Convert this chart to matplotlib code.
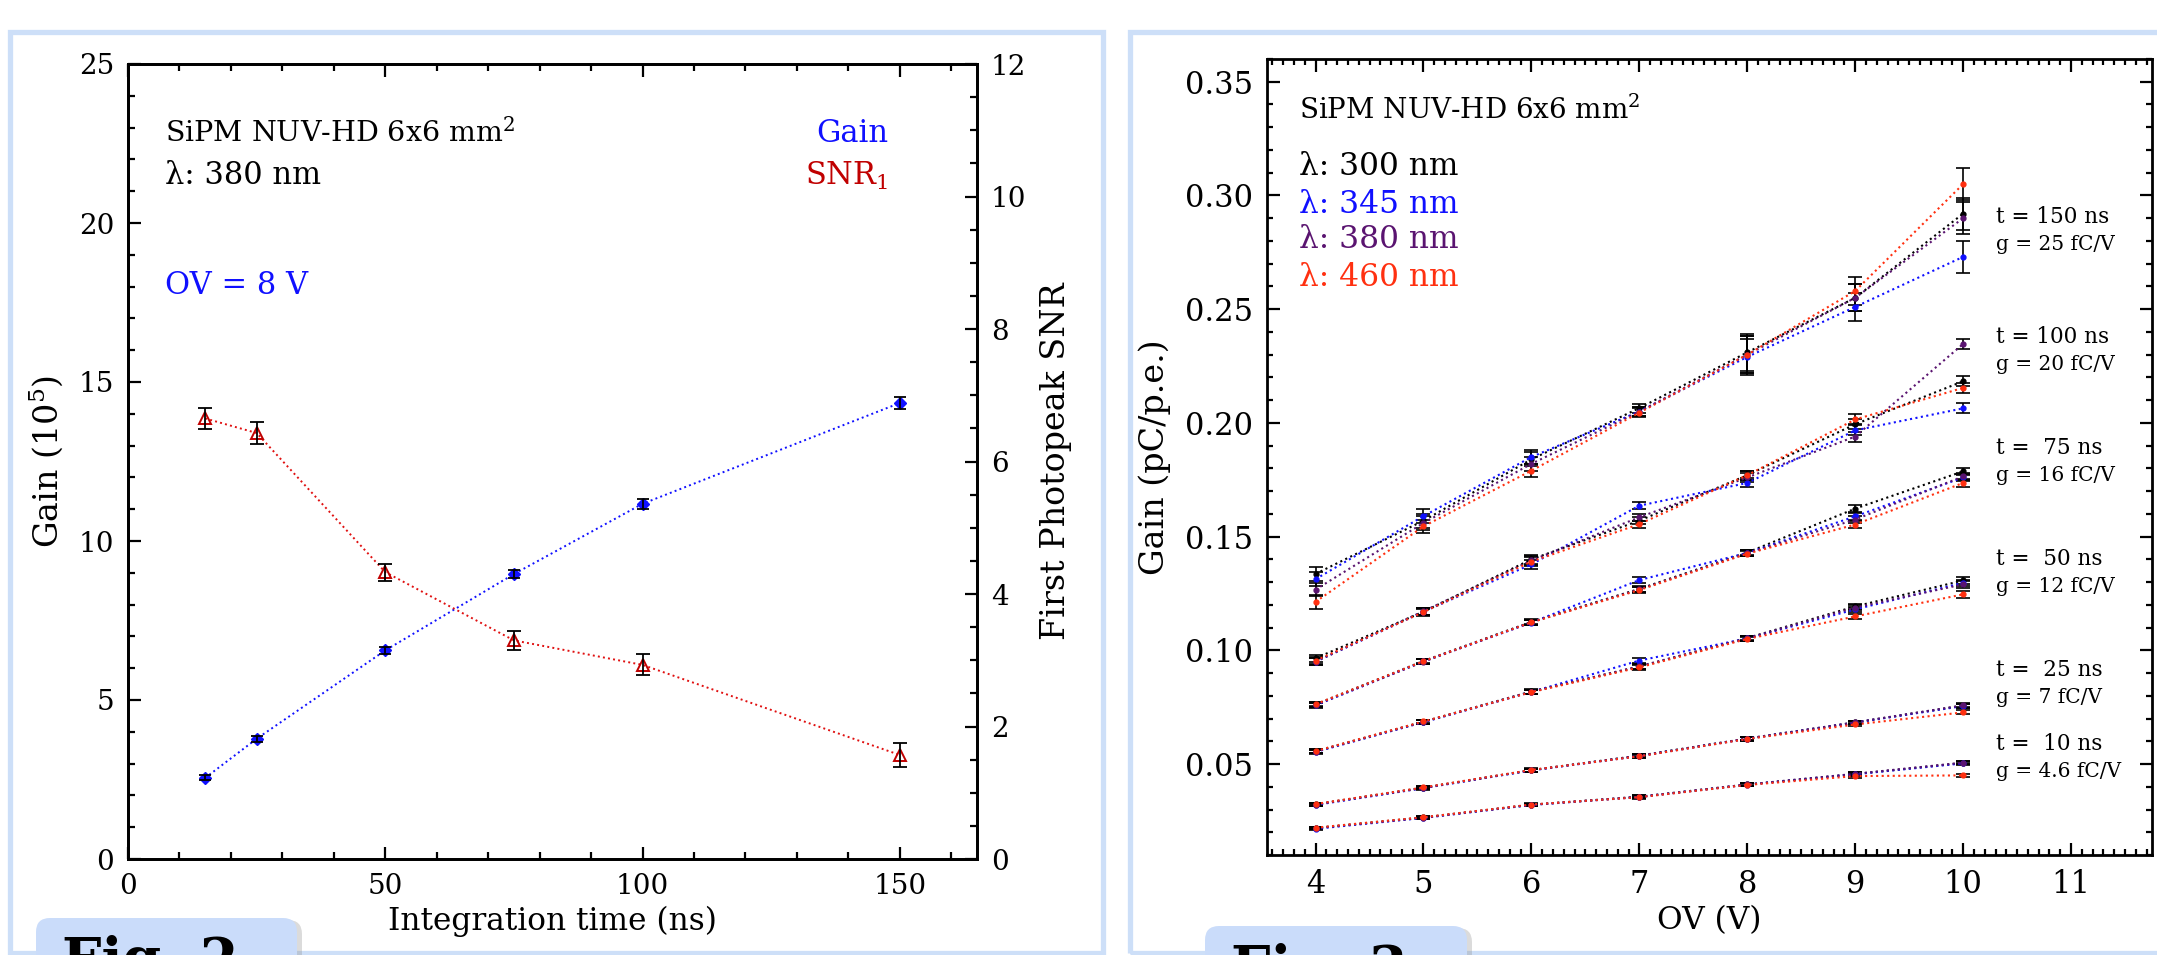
import numpy as np
import matplotlib; matplotlib.use("Agg")
import matplotlib.pyplot as plt
from matplotlib.patches import Rectangle, FancyBboxPatch
from matplotlib.transforms import IdentityTransform
from matplotlib.ticker import MultipleLocator, FormatStrFormatter

plt.rcParams['font.family'] = ['DejaVu Serif']
plt.rcParams['mathtext.fontset'] = 'dejavuserif'

# ---- left panel: gain and SNR vs integration time (OV = 8 V, 380 nm)
t_int = [15, 25, 50, 75, 100, 150]
gain_e5 = [2.55, 3.78, 6.56, 8.96, 11.17, 14.34]
gain_err = [0.08, 0.10, 0.12, 0.12, 0.15, 0.18]
snr1 = [6.65, 6.43, 4.33, 3.30, 2.93, 1.57]
snr1_err = [0.16, 0.16, 0.13, 0.14, 0.16, 0.175]

# ---- right panel: gain vs OV, rows = t = 10, 25, 50, 75, 100, 150 ns
ov = [4, 5, 6, 7, 8, 9, 10]
g300 = [[0.0219, 0.0265, 0.0321, 0.0356, 0.0410, 0.0456, 0.0505],
        [0.0323, 0.0396, 0.0473, 0.0537, 0.0612, 0.0683, 0.0757],
        [0.0556, 0.0686, 0.0819, 0.0928, 0.1054, 0.1193, 0.1307],
        [0.0762, 0.0953, 0.1125, 0.1270, 0.1430, 0.1623, 0.1787],
        [0.0965, 0.1170, 0.1400, 0.1570, 0.1770, 0.1994, 0.2183],
        [0.1336, 0.1570, 0.1840, 0.2065, 0.2310, 0.2550, 0.2920]]
g345 = [[0.0215, 0.0263, 0.0320, 0.0355, 0.0409, 0.0455, 0.0503],
        [0.0320, 0.0394, 0.0472, 0.0535, 0.0611, 0.0682, 0.0755],
        [0.0553, 0.0684, 0.0817, 0.0955, 0.1052, 0.1180, 0.1297],
        [0.0758, 0.0951, 0.1122, 0.1309, 0.1428, 0.1589, 0.1760],
        [0.0950, 0.1170, 0.1378, 0.1636, 0.1736, 0.1967, 0.2064],
        [0.1313, 0.1590, 0.1850, 0.2050, 0.2290, 0.2510, 0.2730]]
g380 = [[0.0218, 0.0264, 0.0321, 0.0356, 0.0410, 0.0457, 0.0506],
        [0.0322, 0.0395, 0.0473, 0.0536, 0.0612, 0.0683, 0.0758],
        [0.0555, 0.0685, 0.0818, 0.0930, 0.1053, 0.1188, 0.1290],
        [0.0760, 0.0950, 0.1124, 0.1268, 0.1427, 0.1575, 0.1765],
        [0.0950, 0.1172, 0.1395, 0.1585, 0.1760, 0.1940, 0.2347],
        [0.1267, 0.1560, 0.1820, 0.2050, 0.2300, 0.2550, 0.2900]]
g460 = [[0.0220, 0.0266, 0.0322, 0.0354, 0.0408, 0.0447, 0.0450],
        [0.0324, 0.0397, 0.0474, 0.0534, 0.0610, 0.0674, 0.0727],
        [0.0557, 0.0687, 0.0816, 0.0925, 0.1050, 0.1149, 0.1246],
        [0.0763, 0.0952, 0.1123, 0.1265, 0.1425, 0.1553, 0.1736],
        [0.0955, 0.1168, 0.1390, 0.1555, 0.1770, 0.2015, 0.2154],
        [0.1213, 0.1545, 0.1790, 0.2045, 0.2300, 0.2580, 0.3050]]
g_err = [[0.0005, 0.0005, 0.0005, 0.0006, 0.0006, 0.0007, 0.0007],
         [0.0006, 0.0006, 0.0007, 0.0007, 0.0008, 0.0008, 0.0009],
         [0.0008, 0.0008, 0.0009, 0.0010, 0.0010, 0.0012, 0.0014],
         [0.0010, 0.0010, 0.0011, 0.0012, 0.0012, 0.0014, 0.0016],
         [0.0015, 0.0015, 0.0020, 0.0015, 0.0020, 0.0022, 0.0022],
         [0.0030, 0.0030, 0.0030, 0.0020, 0.0080, 0.0060, 0.0070]]
t_labels = ["t = 150 ns", "t = 100 ns", "t =  75 ns", "t =  50 ns", "t =  25 ns", "t =  10 ns"]
g_labels = ["g = 25 fC/V", "g = 20 fC/V", "g = 16 fC/V", "g = 12 fC/V", "g = 7 fC/V", "g = 4.6 fC/V"]
t_label_y = [0.2906, 0.2377, 0.1890, 0.1400, 0.0914, 0.0588]
wl_labels = ["λ: 300 nm", "λ: 345 nm", "λ: 380 nm", "λ: 460 nm"]
wl_label_y = [0.3128, 0.2960, 0.2805, 0.2640]
wl_colors = ["black", "#1010ff", "#5a1470", "#ff3010"]

W, H = 2157, 955
fig = plt.figure(figsize=(W/100, H/100), dpi=100)
fig.patch.set_facecolor("white")

def ax_at(l, t, r, b):
    return fig.add_axes([l/W, 1-b/H, (r-l)/W, (b-t)/H])

# panel frames (poster boxes)
pcol = "#cddff8"
for x0, x1 in [(10, 1103), (1130, 2240)]:
    fig.add_artist(Rectangle((x0, 2), x1-x0, H-2-32, transform=IdentityTransform(),
                             fill=False, ec=pcol, lw=3.8, zorder=0))

def style(ax, fs):
    for s in ax.spines.values():
        s.set_linewidth(2.0)
    ax.tick_params(which="both", direction="in", width=1.6, labelsize=fs)
    ax.tick_params(which="major", length=9)
    ax.tick_params(which="minor", length=5)

# ---------------- left
axL = ax_at(128, 64, 977, 859)
axR = axL.twinx()
axL.set_xlim(0, 165); axL.set_ylim(0, 25)
axR.set_ylim(0, 12)
axL.xaxis.set_major_locator(MultipleLocator(50)); axL.xaxis.set_minor_locator(MultipleLocator(10))
axL.yaxis.set_major_locator(MultipleLocator(5)); axL.yaxis.set_minor_locator(MultipleLocator(1))
axR.yaxis.set_major_locator(MultipleLocator(2)); axR.yaxis.set_minor_locator(MultipleLocator(0.5))
style(axL, 20); style(axR, 20)
axL.tick_params(which="both", top=True, right=False, pad=10)
axR.tick_params(which="both", right=True, left=False, pad=10)

axL.plot(t_int, gain_e5, ls=":", color="#1010ff", lw=1.4, marker="D", ms=6,
         mfc="#1010ff", mec="#1010ff", zorder=3)
axL.errorbar(t_int, gain_e5, yerr=gain_err, fmt="none", ecolor="black", elinewidth=1.3,
             capsize=4, capthick=1.3, zorder=4)
axR.plot(t_int, snr1, ls=":", color="#e01010", lw=1.4, marker="^", ms=9,
         mfc="none", mec="#c00000", mew=1.4, zorder=3)
axR.errorbar(t_int, snr1, yerr=snr1_err, fmt="none", ecolor="black", elinewidth=1.3,
             capsize=5, capthick=1.3, zorder=4)

axL.text(7.2, 22.83, "SiPM NUV-HD 6x6 mm$^2$", fontsize=20.5, va="center")
axL.text(7.2, 21.48, "λ: 380 nm", fontsize=22, va="center")
axL.text(7.2, 18.05, "OV = 8 V", fontsize=22, va="center", color="#1010ff")
axL.text(147.8, 22.83, "Gain", fontsize=22, va="center", ha="right", color="#1010ff")
axL.text(147.8, 21.48, "SNR$_1$", fontsize=22, va="center", ha="right", color="#c00000")
axL.set_xlabel("Integration time (ns)", fontsize=22.5, labelpad=4)
axL.set_ylabel("Gain (10$^5$)", fontsize=24, labelpad=10)
axR.set_ylabel("First Photopeak SNR", fontsize=24, labelpad=10)

# ---------------- right
ax2 = ax_at(1267, 59, 2152, 855)
ax2.set_xlim(3.55, 11.75); ax2.set_ylim(0.01, 0.36)
ax2.xaxis.set_major_locator(MultipleLocator(1)); ax2.xaxis.set_minor_locator(MultipleLocator(0.1))
ax2.yaxis.set_major_locator(MultipleLocator(0.05)); ax2.yaxis.set_minor_locator(MultipleLocator(0.01))
ax2.yaxis.set_major_formatter(FormatStrFormatter("%.2f"))
style(ax2, 22)
ax2.tick_params(which="both", top=True, right=True, pad=10)
ax2.tick_params(which="minor", length=4)

for wl, col in zip([g300, g345, g380, g460], wl_colors):
    for row, err in zip(wl, g_err):
        ax2.errorbar(ov, row, yerr=err, fmt="none", ecolor="black", elinewidth=1.2,
                     capsize=5, capthick=1.2, zorder=2)
        ax2.plot(ov, row, ls=":", color=col, lw=1.5, marker="o", ms=3.5, mec=col, zorder=3)

for ty, tl, gl in zip(t_label_y, t_labels, g_labels):
    ax2.text(10.3, ty, tl, fontsize=15.5, va="center")
    ax2.text(10.3, ty - 0.012, gl, fontsize=14.5, va="center")

ax2.text(3.85, 0.3374, "SiPM NUV-HD 6x6 mm$^2$", fontsize=20, va="center")
for yy, lab, col in zip(wl_label_y, wl_labels, wl_colors):
    ax2.text(3.85, yy, lab, fontsize=22.5, va="center", color=col)
ax2.set_xlabel("OV (V)", fontsize=22.5, labelpad=4)
ax2.set_ylabel("Gain (pC/p.e.)", fontsize=24, labelpad=10)

# "Fig." tabs, cut by the bottom of the screenshot
for x0, x1, top, lab in [(36, 297, 918, "Fig. 2"), (1205, 1467, 926, "Fig. 3")]:
    yb = H - top
    fig.add_artist(FancyBboxPatch((x0+5, -30), x1-x0, yb+28, boxstyle="round,pad=0,rounding_size=14",
                                  transform=IdentityTransform(), fc="#999999", ec="none", alpha=0.35, zorder=5))
    fig.add_artist(FancyBboxPatch((x0, -30), x1-x0, yb+30, boxstyle="round,pad=0,rounding_size=14",
                                  transform=IdentityTransform(), fc="#cadcfa", ec="none", zorder=6))
    fig.text(x0 + 26, yb - 17, lab, transform=IdentityTransform(), fontsize=40, fontweight="bold",
             va="top", ha="left", zorder=7)

fig.savefig("out.png", dpi=100)
